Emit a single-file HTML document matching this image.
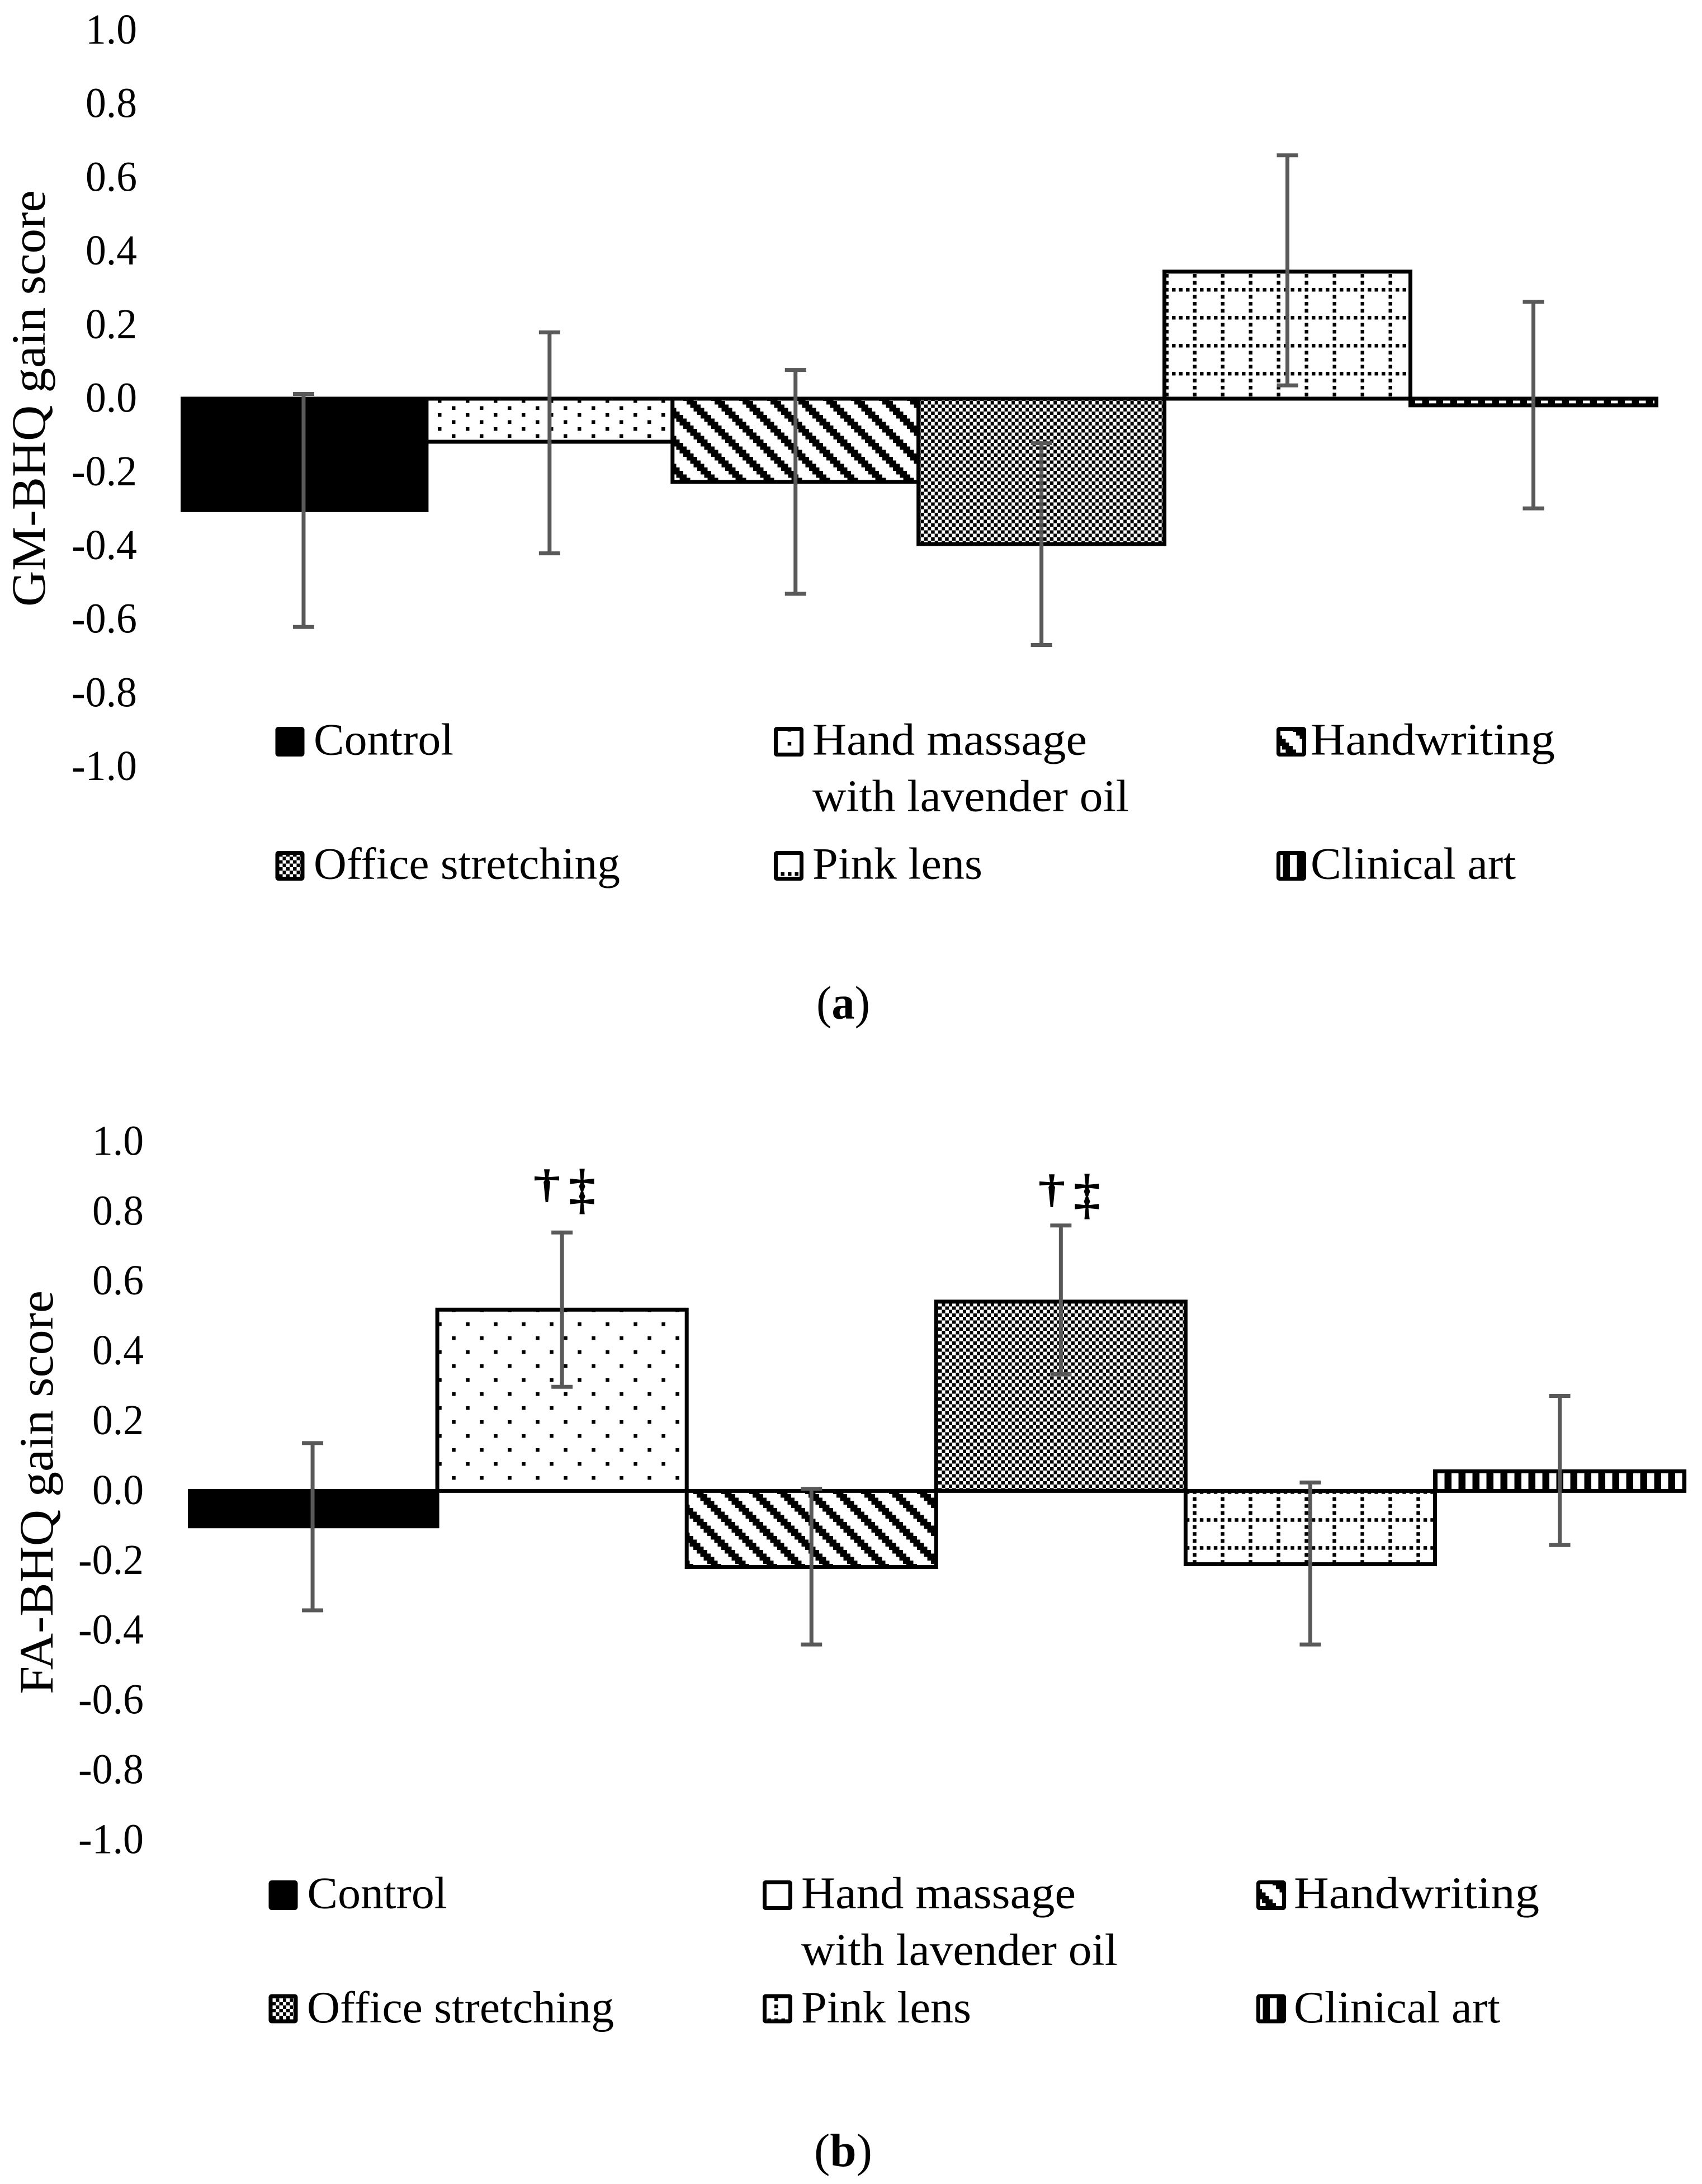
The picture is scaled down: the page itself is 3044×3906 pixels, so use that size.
<!DOCTYPE html>
<html lang="en">
<head>
<meta charset="utf-8">
<title>GM-BHQ and FA-BHQ gain scores</title>
<style>
html,body{margin:0;padding:0;background:#fff;}
svg{display:block;}
text{font-family:"Liberation Serif",serif;fill:#000;}
.leg{font-size:80px;}
.ttl{font-size:86px;}
.cap{font-size:84px;}
.sig{stroke:#000;stroke-width:2px;}
</style>
</head>
<body>
<svg id="fig" xmlns="http://www.w3.org/2000/svg" width="3044" height="3906" viewBox="0 0 3044 3906">
  <rect x="0" y="0" width="3044" height="3906" fill="#fff"/>
  <defs id="defs"></defs>

  <g id="panel-a"></g>
  <text class="ttl" transform="translate(80,1085) rotate(-90)" textLength="745" lengthAdjust="spacingAndGlyphs">GM-BHQ gain score</text>

  <g>
    <rect x="496" y="1303.5" width="45" height="46" fill="#000" stroke="#000" stroke-width="7" rx="2"/>
    <text class="leg" x="561" y="1349.5" textLength="250" lengthAdjust="spacingAndGlyphs">Control</text>
    <rect x="1387.5" y="1303.5" width="46" height="46" fill="url(#leg-a-massage)" stroke="#000" stroke-width="7" rx="2"/>
    <text class="leg" x="1453" y="1349.5" textLength="491" lengthAdjust="spacingAndGlyphs">Hand massage</text>
    <text class="leg" x="1453" y="1450.5" textLength="566" lengthAdjust="spacingAndGlyphs">with lavender oil</text>
    <rect x="2286.5" y="1303.5" width="46" height="46" fill="url(#leg-a-hand)" stroke="#000" stroke-width="7" rx="2"/>
    <text class="leg" x="2344" y="1349.5" textLength="437" lengthAdjust="spacingAndGlyphs">Handwriting</text>
    <rect x="496" y="1525.5" width="45" height="46" fill="url(#leg-a-office)" stroke="#000" stroke-width="7" rx="2"/>
    <text class="leg" x="561" y="1571.5" textLength="548" lengthAdjust="spacingAndGlyphs">Office stretching</text>
    <rect x="1387.5" y="1525.5" width="46" height="46" fill="url(#leg-a-pink)" stroke="#000" stroke-width="7" rx="2"/>
    <text class="leg" x="1453" y="1571.5" textLength="304" lengthAdjust="spacingAndGlyphs">Pink lens</text>
    <rect x="2286.5" y="1525.5" width="46" height="46" fill="url(#leg-a-clinical)" stroke="#000" stroke-width="7" rx="2"/>
    <text class="leg" x="2344" y="1571.5" textLength="367" lengthAdjust="spacingAndGlyphs">Clinical art</text>
  </g>
  <text class="cap" x="1460" y="1821.5" textLength="96" lengthAdjust="spacingAndGlyphs">(<tspan font-weight="bold">a</tspan>)</text>

  <g id="panel-b"></g>
  <text class="ttl" transform="translate(94,3030) rotate(-90)" textLength="722" lengthAdjust="spacingAndGlyphs">FA-BHQ gain score</text>

  <g>
    <text class="sig" x="978" y="2141" font-size="70" text-anchor="middle" textLength="47" lengthAdjust="spacingAndGlyphs">†</text>
    <text class="sig" x="1041" y="2159" font-size="98" text-anchor="middle" textLength="47" lengthAdjust="spacingAndGlyphs">‡</text>
    <text class="sig" x="1881" y="2150" font-size="70" text-anchor="middle" textLength="47" lengthAdjust="spacingAndGlyphs">†</text>
    <text class="sig" x="1944" y="2168" font-size="98" text-anchor="middle" textLength="47" lengthAdjust="spacingAndGlyphs">‡</text>
  </g>

  <g>
    <rect x="484" y="3366.5" width="45" height="46" fill="#000" stroke="#000" stroke-width="7" rx="2"/>
    <text class="leg" x="549.5" y="3412.5" textLength="250" lengthAdjust="spacingAndGlyphs">Control</text>
    <rect x="1367.5" y="3366.5" width="46" height="46" fill="#fff" stroke="#000" stroke-width="7" rx="2"/>
    <text class="leg" x="1433" y="3412.5" textLength="491" lengthAdjust="spacingAndGlyphs">Hand massage</text>
    <text class="leg" x="1433" y="3514" textLength="566" lengthAdjust="spacingAndGlyphs">with lavender oil</text>
    <rect x="2250.5" y="3366.5" width="46" height="46" fill="url(#leg-b-hand)" stroke="#000" stroke-width="7" rx="2"/>
    <text class="leg" x="2314" y="3412.5" textLength="439" lengthAdjust="spacingAndGlyphs">Handwriting</text>
    <rect x="484" y="3570" width="45" height="45" fill="url(#leg-b-office)" stroke="#000" stroke-width="7" rx="2"/>
    <text class="leg" x="549" y="3617" textLength="549" lengthAdjust="spacingAndGlyphs">Office stretching</text>
    <rect x="1367.5" y="3570" width="46" height="45" fill="url(#leg-b-pink)" stroke="#000" stroke-width="7" rx="2"/>
    <text class="leg" x="1433" y="3617" textLength="304" lengthAdjust="spacingAndGlyphs">Pink lens</text>
    <rect x="2250.5" y="3570" width="46" height="45" fill="url(#leg-b-clinical)" stroke="#000" stroke-width="7" rx="2"/>
    <text class="leg" x="2314" y="3617" textLength="369" lengthAdjust="spacingAndGlyphs">Clinical art</text>
  </g>
  <text class="cap" x="1456" y="3874" textLength="104" lengthAdjust="spacingAndGlyphs">(<tspan font-weight="bold">b</tspan>)</text>
</svg>

<script>
// ---- chart data ----
const categories = ["Control", "Hand massage with lavender oil", "Handwriting", "Office stretching", "Pink lens", "Clinical art"];
const tickValues = [1.0, 0.8, 0.6, 0.4, 0.2, 0.0, -0.2, -0.4, -0.6, -0.8, -1.0];
const tickLabels = ["1.0", "0.8", "0.6", "0.4", "0.2", "0.0", "-0.2", "-0.4", "-0.6", "-0.8", "-1.0"];

const gmValues  = [-0.308, -0.117, -0.226, -0.395, 0.345, -0.018];
const gmErrHigh = [0.013, 0.180, 0.078, -0.121, 0.661, 0.263];
const gmErrLow  = [-0.620, -0.420, -0.530, -0.669, 0.036, -0.298];

const faValues  = [-0.107, 0.519, -0.218, 0.542, -0.210, 0.056];
const faErrHigh = [0.137, 0.740, 0.006, 0.760, 0.024, 0.272];
const faErrLow  = [-0.342, 0.298, -0.440, 0.335, -0.440, -0.155];

// ---- drawing ----
const NS = "http://www.w3.org/2000/svg";
const CELL = 6.25;
const defs = document.getElementById("defs");

function svgEl(tag, parent) {
  const el = document.createElementNS(NS, tag);
  parent.appendChild(el);
  return el;
}
function tileRect(p, x, y, w, h, fill) {
  const r = svgEl("rect", p);
  r.setAttribute("x", x);
  r.setAttribute("y", y);
  r.setAttribute("width", w);
  r.setAttribute("height", h);
  r.setAttribute("fill", fill);
  r.setAttribute("shape-rendering", "crispEdges");
}
function makePattern(id, kind, ox, oy) {
  const p = svgEl("pattern", defs);
  p.setAttribute("id", id);
  p.setAttribute("patternUnits", "userSpaceOnUse");
  p.setAttribute("x", ox);
  p.setAttribute("y", oy);
  let w = 50, h = 50;
  if (kind === "office") { w = 12.5; h = 12.5; }
  if (kind === "clinical") { w = 25; h = 25; }
  if (kind === "massageDense") { w = 50; h = 25; }
  p.setAttribute("width", w);
  p.setAttribute("height", h);
  if (kind === "massage") {
    tileRect(p, 0, 0, 50, 50, "#fff");
    tileRect(p, 25, 0, CELL, CELL, "#000");
    tileRect(p, 0, 25, CELL, CELL, "#000");
  } else if (kind === "massageDense") {
    tileRect(p, 0, 0, 50, 25, "#fff");
    tileRect(p, 0, 0, CELL, CELL, "#000");
    tileRect(p, 25, 12.5, CELL, CELL, "#000");
  } else if (kind === "hand") {
    tileRect(p, 0, 0, 50, 50, "#fff");
    for (let r = 0; r < 8; r++) {
      for (let k = 0; k < 3; k++) {
        tileRect(p, ((r + k) % 8) * CELL, r * CELL, CELL + 0.2, CELL + 0.2, "#000");
      }
    }
  } else if (kind === "office") {
    tileRect(p, 0, 0, 12.5, 12.5, "#000");
    tileRect(p, 0, 0, CELL, CELL, "#fff");
    tileRect(p, CELL, CELL, CELL, CELL, "#fff");
  } else if (kind === "pink") {
    tileRect(p, 0, 0, 50, 50, "#fff");
    for (let k = 0; k < 4; k++) {
      tileRect(p, k * 12.5, 0, CELL, CELL, "#000");
      if (k > 0) tileRect(p, 0, k * 12.5, CELL, CELL, "#000");
    }
  } else if (kind === "clinical") {
    tileRect(p, 0, 0, 25, 25, "#000");
    tileRect(p, 0, 0, 12.5, 25, "#fff");
  }
}

// bar fills (style only)
makePattern("a-massage", "massageDense", 808, 726.5);
makePattern("a-hand", "hand", 1228, 717);
makePattern("a-office", "office", 1652.7, 717);
makePattern("a-pink", "pink", 2133.5, 515);
makePattern("a-clinical", "clinical", 2531, 700);
makePattern("b-massage", "massage", 808.3, 2365);
makePattern("b-hand", "hand", 1296, 2672);
makePattern("b-office", "office", 1678, 2330);
makePattern("b-pink", "pink", 2183.3, 2715.2);
makePattern("b-clinical", "clinical", 2571, 2600);
// legend fills (style only)
makePattern("leg-a-massage", "massageDense", 1408.7, 1327);
makePattern("leg-a-hand", "hand", 2318, 1309);
makePattern("leg-a-office", "office", 499, 1532);
makePattern("leg-a-pink", "pink", 1384, 1560);
makePattern("leg-a-clinical", "clinical", 2282, 1520);
makePattern("leg-b-hand", "hand", 2282, 3372);
makePattern("leg-b-office", "office", 487, 3574);
makePattern("leg-b-pink", "pink", 1385, 3560);
makePattern("leg-b-clinical", "clinical", 2246, 3560);

function drawPanel(group, tag, values, errLow, errHigh, geom) {
  const yScale = function (v) { return geom.zeroY - v * geom.unit; };
  const xEdge = function (i) { return geom.x0 + i * geom.step; };
  const fills = ["#000", "url(#" + tag + "-massage)", "url(#" + tag + "-hand)", "url(#" + tag + "-office)", "url(#" + tag + "-pink)", "url(#" + tag + "-clinical)"];

  tickValues.forEach(function (v, i) {
    const t = svgEl("text", group);
    
    
    const label = tickLabels[i];
    const w = label.charAt(0) === "-" ? 117 : 92;
    t.setAttribute("x", geom.tickRight - w);
    t.setAttribute("y", yScale(v) + 23.5);
    t.setAttribute("font-size", "76");
    t.setAttribute("textLength", w);
    t.setAttribute("lengthAdjust", "spacingAndGlyphs");
    t.textContent = label;
  });

  values.forEach(function (v, i) {
    const r = svgEl("rect", group);
    
    
    const y0 = yScale(0);
    const y1 = yScale(v);
    if (i === 0) {
      // solid bar: flush left edge, reaches the outline of its neighbour and the zero line
      r.setAttribute("x", xEdge(i));
      r.setAttribute("width", geom.step + 3.5);
      r.setAttribute("y", Math.min(y0, y1) - 3.5);
      r.setAttribute("height", Math.abs(y1 - y0) + 3.5);
    } else {
      r.setAttribute("x", xEdge(i));
      r.setAttribute("width", geom.step);
      r.setAttribute("y", Math.min(y0, y1));
      r.setAttribute("height", Math.abs(y1 - y0));
      r.setAttribute("stroke", "#000");
      r.setAttribute("stroke-width", "7");
    }
    r.setAttribute("fill", fills[i]);
  });

  values.forEach(function (v, i) {
    const cx = xEdge(i) + geom.step / 2;
    const stem = svgEl("line", group);
    
    
    stem.setAttribute("x1", cx);
    stem.setAttribute("x2", cx);
    stem.setAttribute("y1", yScale(errHigh[i]));
    stem.setAttribute("y2", yScale(errLow[i]));
    stem.setAttribute("stroke", "#595959");
    stem.setAttribute("stroke-width", "7");
    [errHigh[i], errLow[i]].forEach(function (e, k) {
      const cap = svgEl("line", group);
      
      
      cap.setAttribute("x1", cx - 19);
      cap.setAttribute("x2", cx + 19);
      cap.setAttribute("y1", yScale(e));
      cap.setAttribute("y2", yScale(e));
      cap.setAttribute("stroke", "#595959");
      cap.setAttribute("stroke-width", "7");
    });
  });
}

drawPanel(document.getElementById("panel-a"), "a", gmValues, gmErrLow, gmErrHigh,
  { x0: 323, step: 439.9, zeroY: 713, unit: 658.5, tickRight: 245 });
drawPanel(document.getElementById("panel-b"), "b", faValues, faErrLow, faErrHigh,
  { x0: 336, step: 446.1, zeroY: 2666.4, unit: 624.5, tickRight: 257 });
</script>
</body>
</html>
